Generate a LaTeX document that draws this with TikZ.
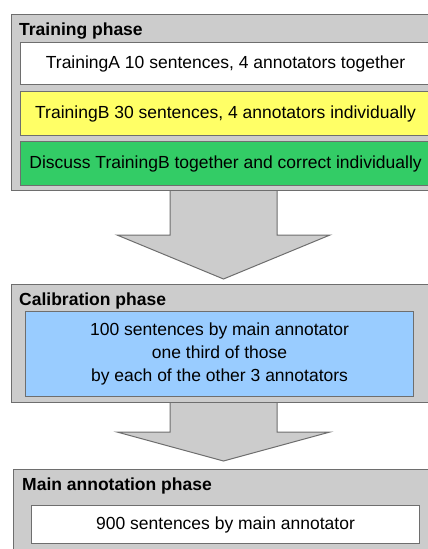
\documentclass[tikz,border=0pt]{standalone}
\usepackage{fontspec}
\setmainfont{Liberation Sans}
\usepackage{tikz}
\usetikzlibrary{calc}

\definecolor{phasegray}{HTML}{CCCCCC}
\definecolor{edgegray}{HTML}{6E6E6E}
\definecolor{stepyellow}{HTML}{FFFF66}
\definecolor{stepgreen}{HTML}{33CC66}
\definecolor{stepblue}{HTML}{99CCFF}

\tikzset{
	phasebox/.style={draw=edgegray, fill=phasegray, line width=1.1pt, anchor=north west, inner sep=0pt},
	stepbox/.style={draw=edgegray, line width=1.1pt, anchor=north west, inner sep=0pt, align=center},
	phasetitle/.style={anchor=base west, inner sep=0pt, font=\fontsize{17.5}{23}\selectfont\bfseries},
	blockarrow/.style={draw=edgegray, fill=phasegray, line width=1pt, line join=miter}
}

\begin{document}
\begin{tikzpicture}[x=1pt, y=-1pt, font=\fontsize{17.5}{23}\selectfont]
		\useasboundingbox (0,0) rectangle (428,549);
		\clip (0,0) rectangle (428,549);
		
		% training phase
		\node[phasebox, minimum width=440pt, minimum height=176pt] (train) at (11,14) {};
		\node[phasetitle] (trainTitle) at (19,35) {Training phase};
		\node[stepbox, fill=white, minimum width=410pt, minimum height=42pt] (trainA) at (20,42) {TrainingA 10 sentences, 4 annotators together};
		\node[stepbox, fill=stepyellow, minimum width=410pt, minimum height=44pt] (trainB) at (20,91) {TrainingB 30 sentences, 4 annotators individually};
		\node[stepbox, fill=stepgreen, minimum width=410pt, minimum height=44pt] (discuss) at (20,141) {Discuss TrainingB together and correct individually};
		
		% calibration phase
		\node[phasebox, minimum width=440pt, minimum height=118pt] (calib) at (11,284) {};
		\node[phasetitle] (calibTitle) at (19,305) {Calibration phase};
		\node[stepbox, fill=stepblue, minimum width=388pt, minimum height=85pt] (calibSet) at (25,311) {100 sentences by main annotator\\one third of those\\by each of the other 3 annotators};
		
		% main annotation phase
		\node[phasebox, minimum width=440pt, minimum height=100pt] (main) at (13,469) {};
		\node[phasetitle] (mainTitle) at (22,490) {Main annotation phase};
		\node[stepbox, fill=white, minimum width=388pt, minimum height=38pt] (mainSet) at (31,505) {900 sentences by main annotator};
		
		% arrows between the phases
		\coordinate (tipA) at (223.5,279);
		\coordinate (tipB) at (223.5,461);
		\draw[blockarrow] (train.south -| 170,0) -- (170,235) -- (117,235) -- (tipA) -- (330,235) -- (277,235) -- (train.south -| 277,0);
		\draw[blockarrow] (calib.south -| 170,0) -- (170,432) -- (117,432) -- (tipB) -- (330,432) -- (277,432) -- (calib.south -| 277,0);
		
	\end{tikzpicture}
\end{document}
